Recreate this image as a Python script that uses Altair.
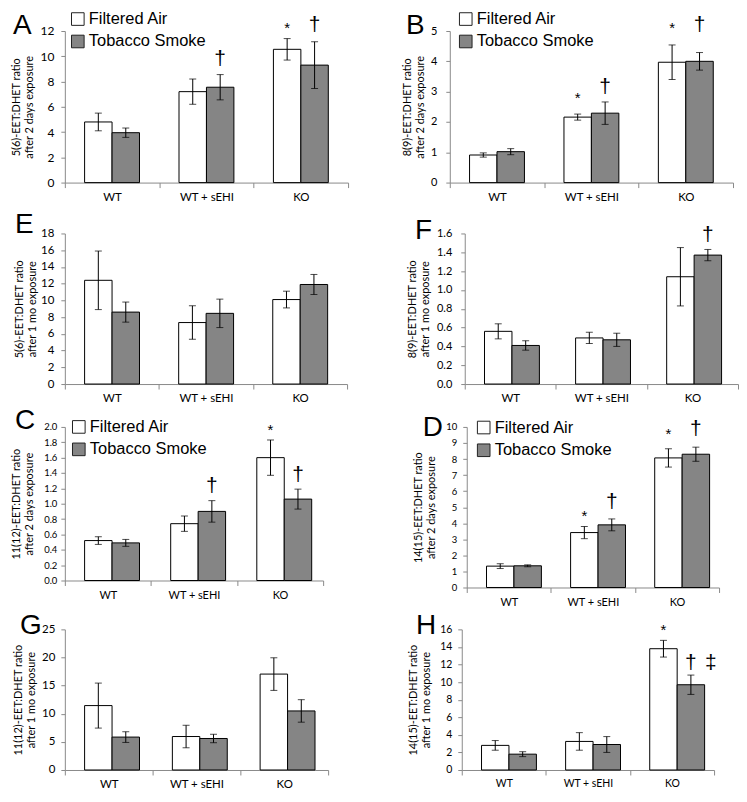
import altair as alt
import pandas as pd

groups = ["WT", "WT + sEHI", "KO"]
series = ["Filtered Air", "Tobacco Smoke"]
fills = ["#ffffff", "#858585"]

# ---- values (mean, error) ----
A_fa = [4.8, 7.2, 10.55];   A_fa_err = [0.7, 1.0, 0.85]
A_ts = [3.95, 7.55, 9.3];   A_ts_err = [0.37, 1.0, 1.85]
B_fa = [0.91, 2.16, 3.97];  B_fa_err = [0.07, 0.1, 0.57]
B_ts = [1.02, 2.29, 4.0];   B_ts_err = [0.1, 0.37, 0.29]
E_fa = [12.4, 7.35, 10.1];  E_fa_err = [3.5, 2.0, 1.0]
E_ts = [8.6, 8.45, 11.9];   E_ts_err = [1.2, 1.7, 1.2]
F_fa = [0.56, 0.49, 1.14];  F_fa_err = [0.08, 0.06, 0.31]
F_ts = [0.41, 0.47, 1.37];  F_ts_err = [0.05, 0.07, 0.06]
C_fa = [0.52, 0.74, 1.6];   C_fa_err = [0.05, 0.1, 0.23]
C_ts = [0.49, 0.9, 1.06];   C_ts_err = [0.045, 0.14, 0.13]
D_fa = [1.33, 3.42, 8.07];  D_fa_err = [0.15, 0.38, 0.57]
D_ts = [1.35, 3.9, 8.3];    D_ts_err = [0.06, 0.37, 0.44]
G_fa = [11.45, 5.95, 17.05]; G_fa_err = [4.0, 2.0, 2.9]
G_ts = [5.85, 5.6, 10.5];   G_ts_err = [0.95, 0.75, 2.0]
H_fa = [2.8, 3.25, 13.8];   H_fa_err = [0.55, 1.0, 0.95]
H_ts = [1.8, 2.9, 9.7];     H_ts_err = [0.28, 0.9, 1.1]

# ---- y tick labels ----
A_ticks = [0, 2, 4, 6, 8, 10, 12]
B_ticks = [0, 1, 2, 3, 4, 5]
E_ticks = [0, 2, 4, 6, 8, 10, 12, 14, 16, 18]
F_ticks = [0.0, 0.2, 0.4, 0.6, 0.8, 1.0, 1.2, 1.4, 1.6]
C_ticks = [0.0, 0.2, 0.4, 0.6, 0.8, 1.0, 1.2, 1.4, 1.6, 1.8, 2.0]
D_ticks = [0, 1, 2, 3, 4, 5, 6, 7, 8, 9, 10]
G_ticks = [0, 5, 10, 15, 20, 25]
H_ticks = [0, 2, 4, 6, 8, 10, 12, 14, 16]

# ---- axis titles ----
A_title = ["5(6)-EET:DHET ratio", "after 2 days exposure"]
B_title = ["8(9)-EET:DHET ratio", "after 2 days exposure"]
E_title = ["5(6)-EET:DHET ratio", "after 1 mo exposure"]
F_title = ["8(9)-EET:DHET ratio", "after 1 mo exposure"]
C_title = ["11(12)-EET:DHET ratio", "after 2 days exposure"]
D_title = ["14(15)-EET:DHET ratio", "after 2 days exposure"]
G_title = ["11(12)-EET:DHET ratio", "after 1 mo exposure"]
H_title = ["14(15)-EET:DHET ratio", "after 1 mo exposure"]

# ---- significance markers: group, series, symbol, y (data units) ----
A_marks = [("WT + sEHI", "Tobacco Smoke", "†", 9.77), ("KO", "Filtered Air", "*", 12.56),
           ("KO", "Tobacco Smoke", "†", 12.5)]
B_marks = [("WT + sEHI", "Filtered Air", "*", 2.91), ("WT + sEHI", "Tobacco Smoke", "†", 3.14),
           ("KO", "Filtered Air", "*", 5.24), ("KO", "Tobacco Smoke", "†", 5.2)]
E_marks = []
F_marks = [("KO", "Tobacco Smoke", "†", 1.58)]
C_marks = [("WT + sEHI", "Tobacco Smoke", "†", 1.23), ("KO", "Filtered Air", "*", 2.01),
           ("KO", "Tobacco Smoke", "†", 1.37)]
D_marks = [("WT + sEHI", "Filtered Air", "*", 4.72), ("WT + sEHI", "Tobacco Smoke", "†", 5.3),
           ("KO", "Filtered Air", "*", 9.79), ("KO", "Tobacco Smoke", "†", 9.85)]
G_marks = []
H_marks = [("KO", "Filtered Air", "*", 16.36), ("KO", "Tobacco Smoke", "†", 12.17),
           ("KO", "Tobacco Smoke", "‡", 12.17)]

GRAY = "#8a8a8a"
AXF = "Lato"
TXF = "Liberation Sans"


def panel(letter, title, fa, fa_err, ts, ts_err, ticks, fmt, marks, st):
    rows = []
    for i, g in enumerate(groups):
        for s, m, e in ((series[0], fa[i], fa_err[i]), (series[1], ts[i], ts_err[i])):
            rows.append({"group": g, "series": s, "value": m, "lo": m - e, "hi": m + e})
    df = pd.DataFrame(rows)
    ymax = ticks[-1]
    ysc = alt.Scale(domain=[0, ymax], nice=False, zero=True)
    xsc = alt.Scale(paddingInner=0, paddingOuter=0)
    osc = alt.Scale(paddingOuter=0.72, paddingInner=0)
    xaxis = alt.Axis(title=None, tickBand="extent", labelAngle=0, domainColor=GRAY,
                     tickColor=GRAY, tickSize=5, labelFont=AXF, labelFontSize=st["xfs"],
                     labelColor="black", labelPadding=4, grid=False)
    yaxis = alt.Axis(values=ticks, format=fmt, title=title, titleX=st["tx"],
                     titleBaseline="bottom", titleFont=AXF, titleFontSize=11,
                     titleFontWeight="normal", titleColor="black", titleLineHeight=12.5,
                     labelFont=AXF, labelFontSize=st["yfs"], labelColor="black",
                     labelPadding=st["ylp"], tickSize=4, tickColor=GRAY, domainColor=GRAY,
                     grid=False)
    X = alt.X("group:N", sort=groups, scale=xsc, axis=xaxis)
    XO = alt.XOffset("series:N", sort=series, scale=osc)

    def Y(field):
        return alt.Y(field, scale=ysc, axis=yaxis)

    base = alt.Chart(df)
    ext = alt.Chart(pd.DataFrame({"a": [0]})).mark_rule(opacity=0).encode(
        x=alt.value(-st["L"]), y=alt.value(-st["T"]), y2=alt.value(st["D"]))
    bars = base.mark_bar(stroke="black", strokeWidth=1).encode(
        x=X, xOffset=XO, y=Y("value:Q"),
        fill=alt.Fill("series:N", scale=alt.Scale(domain=series, range=fills), legend=None))
    err = base.mark_rule(color="black", strokeWidth=1).encode(
        x=X, xOffset=XO, y=Y("lo:Q"), y2="hi:Q")
    cap_lo = base.mark_tick(color="black", thickness=1, size=7).encode(
        x=X, xOffset=XO, y=Y("lo:Q"))
    cap_hi = base.mark_tick(color="black", thickness=1, size=7).encode(
        x=X, xOffset=XO, y=Y("hi:Q"))
    layers = [ext, bars, err, cap_lo, cap_hi]

    if marks:
        mdf = pd.DataFrame(marks, columns=["group", "series", "symbol", "y"])
        mbase = alt.Chart(mdf).encode(x=X, xOffset=XO, y=Y("y:Q"), text="symbol:N")
        layers.append(mbase.transform_filter(alt.datum.symbol == "*").mark_text(
            font=TXF, fontSize=15, baseline="middle", dy=4, color="black"))
        layers.append(mbase.transform_filter(alt.datum.symbol == "†").mark_text(
            font=TXF, fontSize=21, baseline="middle", dy=0, color="black"))
        layers.append(mbase.transform_filter(alt.datum.symbol == "‡").mark_text(
            font=TXF, fontSize=21, baseline="middle", dx=20, dy=0, color="black"))

    if st.get("leg"):
        lx, ly1, ly2 = st["leg"]
        for s, f, yy in ((series[0], fills[0], ly1), (series[1], fills[1], ly2)):
            one = alt.Chart(pd.DataFrame({"s": [s]}))
            layers.append(one.mark_square(size=160, fill=f, stroke="#222222",
                                          strokeWidth=1, opacity=1).encode(
                x=alt.value(lx), y=alt.value(yy)))
            layers.append(one.mark_text(font=TXF, fontSize=16.5, align="left",
                                        baseline="middle", color="black").encode(
                x=alt.value(lx + 11), y=alt.value(yy), text="s:N"))

    lt = alt.Chart(pd.DataFrame({"t": [letter]})).mark_text(
        font=TXF, fontSize=28, align="left", baseline="alphabetic", color="black").encode(
        x=alt.value(st["lx"]), y=alt.value(st["ly"]), text="t:N")
    layers.append(lt)
    return alt.layer(*layers).properties(width=st["w"], height=st["h"])


pA = panel("A", A_title, A_fa, A_fa_err, A_ts, A_ts_err, A_ticks, "d", A_marks,
           dict(w=284, h=152, yfs=12, ylp=7, xfs=11.5, tx=-43, lx=-52, ly=3,
                leg=(13, -12, 10.5), L=57, T=22, D=181))
pB = panel("B", B_title, B_fa, B_fa_err, B_ts, B_ts_err, B_ticks, "d", B_marks,
           dict(w=284, h=152, yfs=11, ylp=9, xfs=11.5, tx=-37, lx=-44, ly=3,
                leg=(16, -12, 10.5), L=60, T=22, D=181))
pE = panel("E", E_title, E_fa, E_fa_err, E_ts, E_ts_err, E_ticks, "d", E_marks,
           dict(w=283, h=151, yfs=11.5, ylp=7, xfs=11.5, tx=-40, lx=-50, ly=0,
                L=57, T=20, D=174))
pF = panel("F", F_title, F_fa, F_fa_err, F_ts, F_ts_err, F_ticks, ".1f", F_marks,
           dict(w=274, h=151, yfs=11, ylp=9, xfs=11.5, tx=-47, lx=-50, ly=6,
                L=60, T=20, D=174))
pC = panel("C", C_title, C_fa, C_fa_err, C_ts, C_ts_err, C_ticks, ".1f", C_marks,
           dict(w=259, h=154, yfs=9.5, ylp=4, xfs=11, tx=-43, lx=-50, ly=2,
                leg=(14, 0, 22.5), L=57, T=16, D=183))
pD = panel("D", D_title, D_fa, D_fa_err, D_ts, D_ts_err, D_ticks, "d", D_marks,
           dict(w=253, h=161, yfs=9.5, ylp=6, xfs=11, tx=-43, lx=-44, ly=9,
                leg=(17, 0.6, 23.4), L=60, T=16, D=183))
pG = panel("G", G_title, G_fa, G_fa_err, G_ts, G_ts_err, G_ticks, "d", G_marks,
           dict(w=264, h=141, yfs=11.5, ylp=6, xfs=11.5, tx=-41, lx=-45, ly=5,
                L=57, T=20, D=160))
pH = panel("H", H_title, H_fa, H_fa_err, H_ts, H_ts_err, H_ticks, "d", H_marks,
           dict(w=253, h=141, yfs=10.5, ylp=6, xfs=10.5, tx=-43, lx=-46, ly=5,
                L=60, T=20, D=160))

row1 = alt.hconcat(pA, pB, spacing=41)
row2 = alt.hconcat(pE, pF, spacing=57)
row3 = alt.hconcat(pC, pD, spacing=83)
row4 = alt.hconcat(pG, pH, spacing=73)

chart = alt.vconcat(row1, row2, row3, row4, spacing=0).properties(
    padding=0, background="white"
).configure_view(stroke=None)

chart.save("out.html", embed_options={"renderer": "svg", "actions": False})
